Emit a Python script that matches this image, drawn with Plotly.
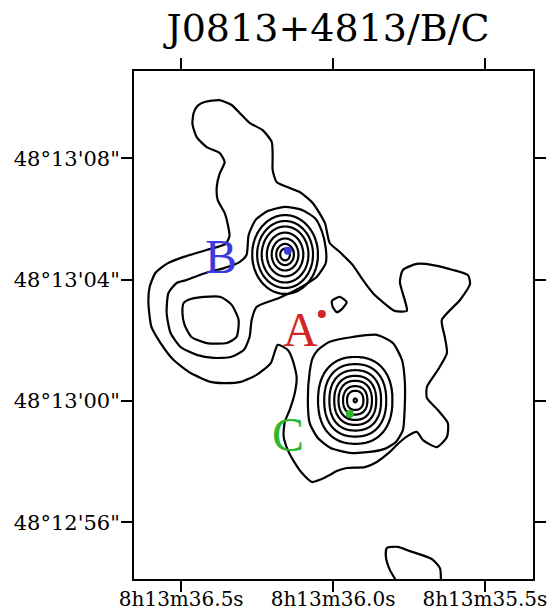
import numpy as np
import plotly.graph_objects as go

# ---- axis labels (offsets in arcsec from 8h13m36.0s, +48d13'00") ----
x_tickvals = [-5, 0, 5]
x_ticktext = ["8h13m36.5s", "8h13m36.0s", "8h13m35.5s"]
y_tickvals = [8, 4, 0, -4]
y_ticktext = ["48°13'08\"", "48°13'04\"", "48°13'00\"", "48°12'56\""]
title_text = "J0813+4813/B/C"

# ---- lowest contour level: outer envelope ----
outer_x = [-3.54, -4.16, -4.92, -5.48, -5.85, -6.04, -6.08, -5.98, -5.68, -5.25, -4.69, -4.03, -3.60, -3.04,
           -2.52, -2.05, -1.82, -1.49, -1.33, -1.20, -1.26, -1.43, -1.59, -1.63, -1.49, -1.26, -1.03, -0.70,
           -0.44, -0.11, 0.12, 0.45, 1.05, 1.44, 1.87, 2.13, 2.40, 2.76, 2.96, 3.42, 3.75, 3.78, 3.45, 3.09,
           3.09, 3.45, 3.75, 3.68, 3.58, 4.18, 4.51, 4.44, 3.95, 3.29, 2.76, 2.30, 2.20, 2.36, 2.43, 2.03,
           1.64, 1.31, 0.98, 0.65, 0.22, -0.11, -0.27, -0.67, -1.10, -1.53, -1.86, -1.99, -1.99, -2.02,
           -2.32, -2.75, -3.08, -3.34, -3.74, -4.23, -4.46, -4.59, -4.63, -4.49, -4.16, -3.74, -3.57, -3.74,
           -3.83, -3.80, -3.57, -3.47, -3.41]
outer_y = [5.18, 4.98, 4.75, 4.52, 4.22, 3.76, 3.23, 2.44, 1.91, 1.35, 0.92, 0.63, 0.59, 0.63,
           0.86, 1.25, 1.85, 1.68, 1.35, 0.79, 0.26, -0.30, -0.69, -1.15, -1.62, -2.04, -2.37, -2.67,
           -2.60, -2.44, -2.31, -2.21, -2.18, -2.01, -1.68, -1.42, -1.19, -1.02, -1.29, -1.52, -1.19, -0.73, -0.30, 0.10,
           0.46, 1.02, 1.58, 2.11, 2.67, 3.33, 3.86, 4.15, 4.32, 4.48, 4.52, 4.32, 3.92, 3.33, 2.97, 2.97,
           3.26, 3.56, 3.99, 4.48, 4.91, 5.21, 5.87, 6.53, 6.89, 7.06, 7.22, 7.62, 8.04, 8.54,
           8.93, 9.17, 9.50, 9.76, 9.92, 9.86, 9.73, 9.50, 9.13, 8.70, 8.37, 8.18, 7.88, 7.48,
           7.06, 6.63, 6.20, 5.84, 5.44]

# hole inside the western loop
hole_x = [-4.92, -4.69, -4.26, -3.70, -3.34, -3.11, -3.18, -3.50, -4.16, -4.66, -4.89, -4.96]
hole_y = [3.23, 3.36, 3.43, 3.43, 3.17, 2.67, 2.11, 1.91, 1.91, 2.11, 2.51, 2.90]

# small islet near A
islet_x = [-0.04, 0.22, 0.45, 0.29, 0.12, -0.01]
islet_y = [3.30, 3.43, 3.26, 3.03, 2.93, 3.10]

# southern islet cut by the frame
south_x = [2.17, 1.87, 1.74, 1.77, 2.13, 2.53, 3.25, 3.52, 3.55]
south_y = [-6.07, -5.57, -5.14, -4.85, -4.81, -4.95, -5.21, -5.51, -6.07]

# ---- second contour level ----
loopB_x = [-2.85, -2.78, -2.55, -2.15, -1.59, -1.03, -0.60, -0.37, -0.24, -0.24, -0.54, -1.10, -1.76,
           -2.52, -2.68, -2.75, -2.94, -3.37, -3.93, -4.49, -5.02, -5.35, -5.48, -5.42, -5.15, -4.82,
           -4.20, -3.57, -3.08]
loopB_y = [4.81, 5.47, 5.97, 6.26, 6.40, 6.30, 6.03, 5.60, 5.04, 4.55, 4.09, 3.73, 3.40,
           3.10, 2.67, 2.11, 1.68, 1.45, 1.42, 1.52, 1.78, 2.24, 2.90, 3.56, 3.89, 3.99,
           4.22, 4.39, 4.58]

envC_x = [-0.50, -0.11, 0.65, 1.44, 1.97, 2.27, 2.36, 2.36, 2.30, 2.07, 1.70, 1.21, 0.55, -0.08,
          -0.50, -0.77, -0.83, -0.77, -0.67]
envC_y = [1.68, 1.95, 2.11, 2.18, 1.91, 1.35, 0.69, -0.20, -0.96, -1.35, -1.58, -1.68, -1.71, -1.55,
          -1.22, -0.73, 0.03, 0.96, 1.42]

# ---- compact cores: ring semi-axes (east-west, arcsec), outer to inner ----
coreB_center = (-1.58, 4.83)
coreB_axes = [1.08, 0.92, 0.77, 0.60, 0.44, 0.29, 0.16]
coreB_ratio = 1.2
coreB_power = 2.0

coreC_center = (0.73, 0.02)
coreC_axes = [1.22, 1.02, 0.85, 0.69, 0.55, 0.40, 0.27, 0.05]
coreC_ratio = 1.17
coreC_power = 2.3

# ---- components ----
src_names = ["A", "B", "C"]
src_x = [-0.37, -1.49, 0.55]
src_y = [2.87, 4.95, -0.43]
src_colors = ["#d42424", "#3b3bdc", "#2bb82b"]
label_x = [-1.07, -3.70, -1.49]
label_y = [2.36, 4.75, -1.10]

fig = go.Figure()

def add_path(xs, ys, closed=True):
    xs = list(xs)
    ys = list(ys)
    if closed:
        xs = xs + xs[:1]
        ys = ys + ys[:1]
    fig.add_trace(go.Scatter(x=xs, y=ys, mode="lines",
                             line=dict(color="black", width=2.2, shape="spline", smoothing=0.6),
                             hoverinfo="skip", showlegend=False))

add_path(outer_x, outer_y)
add_path(hole_x, hole_y)
add_path(islet_x, islet_y)
add_path(south_x, south_y, closed=False)
add_path(loopB_x, loopB_y)
add_path(envC_x, envC_y)

def add_core(center, axes, ratio, power):
    cx, cy = center
    amax = max(axes)
    gx = np.arange(cx - amax * 1.3, cx + amax * 1.3, 0.012)
    gy = np.arange(cy - amax * ratio * 1.3, cy + amax * ratio * 1.3, 0.012)
    X, Y = np.meshgrid(gx, gy)
    R = (np.abs(X - cx) ** power + np.abs((Y - cy) / ratio) ** power) ** (1.0 / power)
    n = len(axes)
    xp = [0.0] + sorted(axes) + [amax * 2.0]
    fp = [n + 1] + list(range(n, 0, -1)) + [0]
    Z = np.round(np.interp(R, xp, fp), 3)
    fig.add_trace(go.Contour(x=np.round(gx, 3), y=np.round(gy, 3), z=Z,
                             contours=dict(start=1, end=n, size=1, coloring="none"),
                             line=dict(color="black", width=2.2, smoothing=1),
                             showscale=False, hoverinfo="skip"))

add_core(coreB_center, coreB_axes, coreB_ratio, coreB_power)
add_core(coreC_center, coreC_axes, coreC_ratio, coreC_power)

fig.add_trace(go.Scatter(x=src_x, y=src_y, mode="markers",
                         marker=dict(color=src_colors, size=8),
                         hoverinfo="skip", showlegend=False))

for name, lx, ly, col in zip(src_names, label_x, label_y, src_colors):
    fig.add_annotation(x=lx, y=ly, text=name, showarrow=False,
                       font=dict(family="Liberation Serif", size=48, color=col),
                       xanchor="center", yanchor="middle")

axis_common = dict(showline=True, linewidth=2, linecolor="black", mirror="ticks",
                   ticks="outside", ticklen=11, tickwidth=2, tickcolor="black",
                   showgrid=False, zeroline=False, automargin=False,
                   tickfont=dict(family="DejaVu Serif", size=21, color="black"))

fig.update_layout(
    width=557, height=611,
    margin=dict(l=134, r=24, t=71, b=32, autoexpand=False),
    paper_bgcolor="white", plot_bgcolor="white",
    showlegend=False,
    title=dict(text=title_text, x=328 / 557, xanchor="center", xref="container",
               y=1 - 28 / 611, yanchor="middle", yref="container", automargin=False,
               font=dict(family="DejaVu Serif", size=38, color="black")),
    xaxis=dict(range=[-6.555, 6.584], tickvals=x_tickvals, ticktext=x_ticktext,
               ticklabelstandoff=-10, **axis_common),
    yaxis=dict(range=[-5.87, 10.88], tickvals=y_tickvals, ticktext=y_ticktext,
               ticklabelstandoff=-3, **axis_common),
)
fig.update_xaxes(tickfont_size=20)

fig.write_html("out.html", config={"displayModeBar": False},
               post_script="document.body.style.margin='0px';document.body.style.overflow='hidden';")
